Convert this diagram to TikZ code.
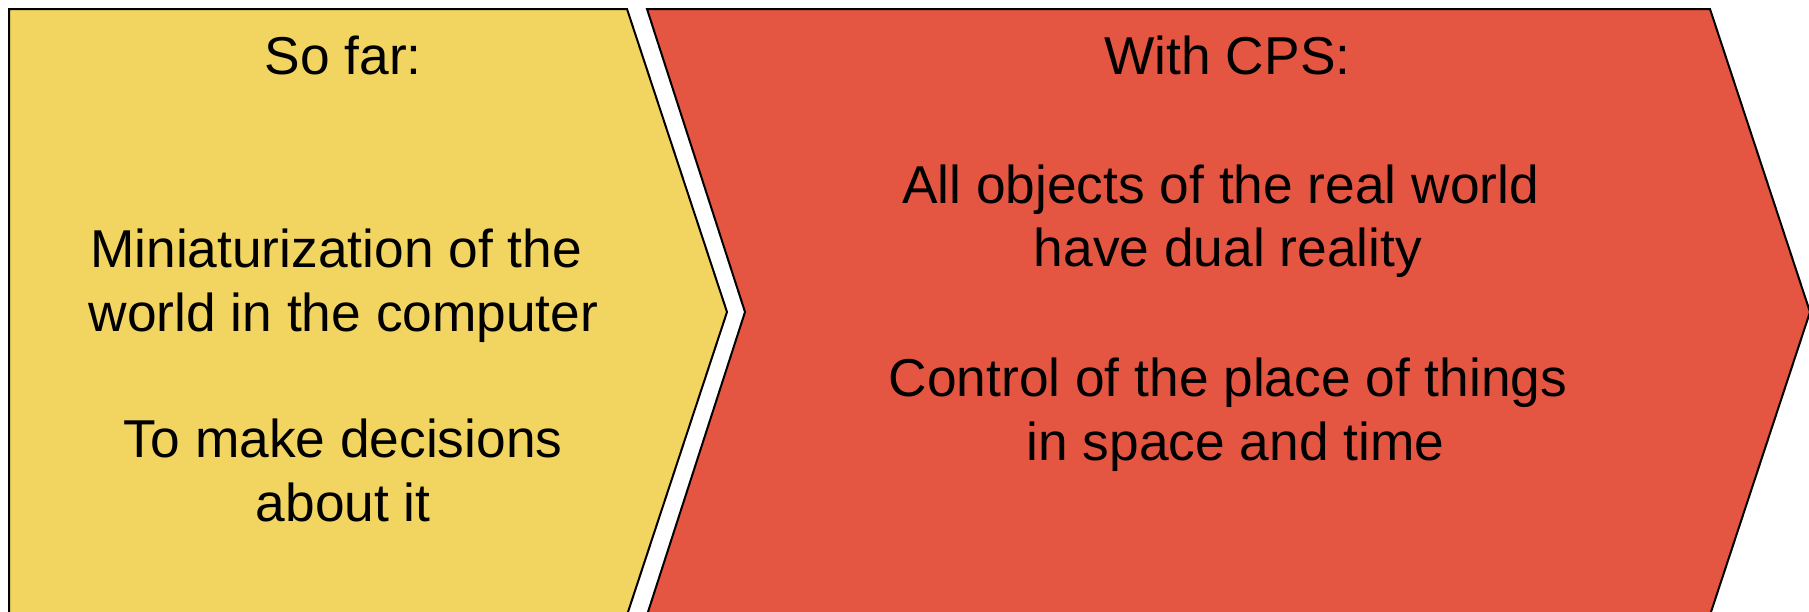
\documentclass[tikz,border=0pt]{standalone}
\usepackage{fontspec}
\setmainfont{Liberation Sans}
\definecolor{sofar}{HTML}{F2D461}
\definecolor{withcps}{HTML}{E55642}
\tikzset{
  chevron/.style={draw=black, line width=1pt, line join=miter},
  bodytext/.style={inner sep=0pt, anchor=base, align=center, font=\fontsize{26.65}{31.75}\selectfont},
}
\begin{document}
\begin{tikzpicture}[x=0.5pt,y=-0.5pt]
\useasboundingbox (0,0) rectangle (1809,611);
\fill[white] (0,0) rectangle (1809,611);
\clip (0,0) rectangle (1809,611);
\path[chevron, fill=sofar] (9,9) -- (627,9) -- (727,312) -- (627,615) -- (9,615) -- cycle;
\path[chevron, fill=withcps] (647,9) -- (1710,9) -- (1810,312) -- (1710,615) -- (647,615) -- (745,312) -- cycle;
\node[bodytext] (sofar) at (343.2,74) {So far:};
\node[bodytext] (mini) at (343.5,331) {Miniaturization of the\hspace*{0.278em}\\world in the computer};
\node[bodytext] (decide) at (343.2,521) {To make decisions\\about it};
\node[bodytext] (with) at (1227.5,74) {With CPS:};
\node[bodytext] (dual) at (1228,266.5) {All objects of the real world\hspace*{0.278em}\\have dual reality};
\node[bodytext] (ctrl) at (1228,460.3) {Control of the place of things\\\hspace*{0.278em}in space and time};
\end{tikzpicture}
\end{document}
